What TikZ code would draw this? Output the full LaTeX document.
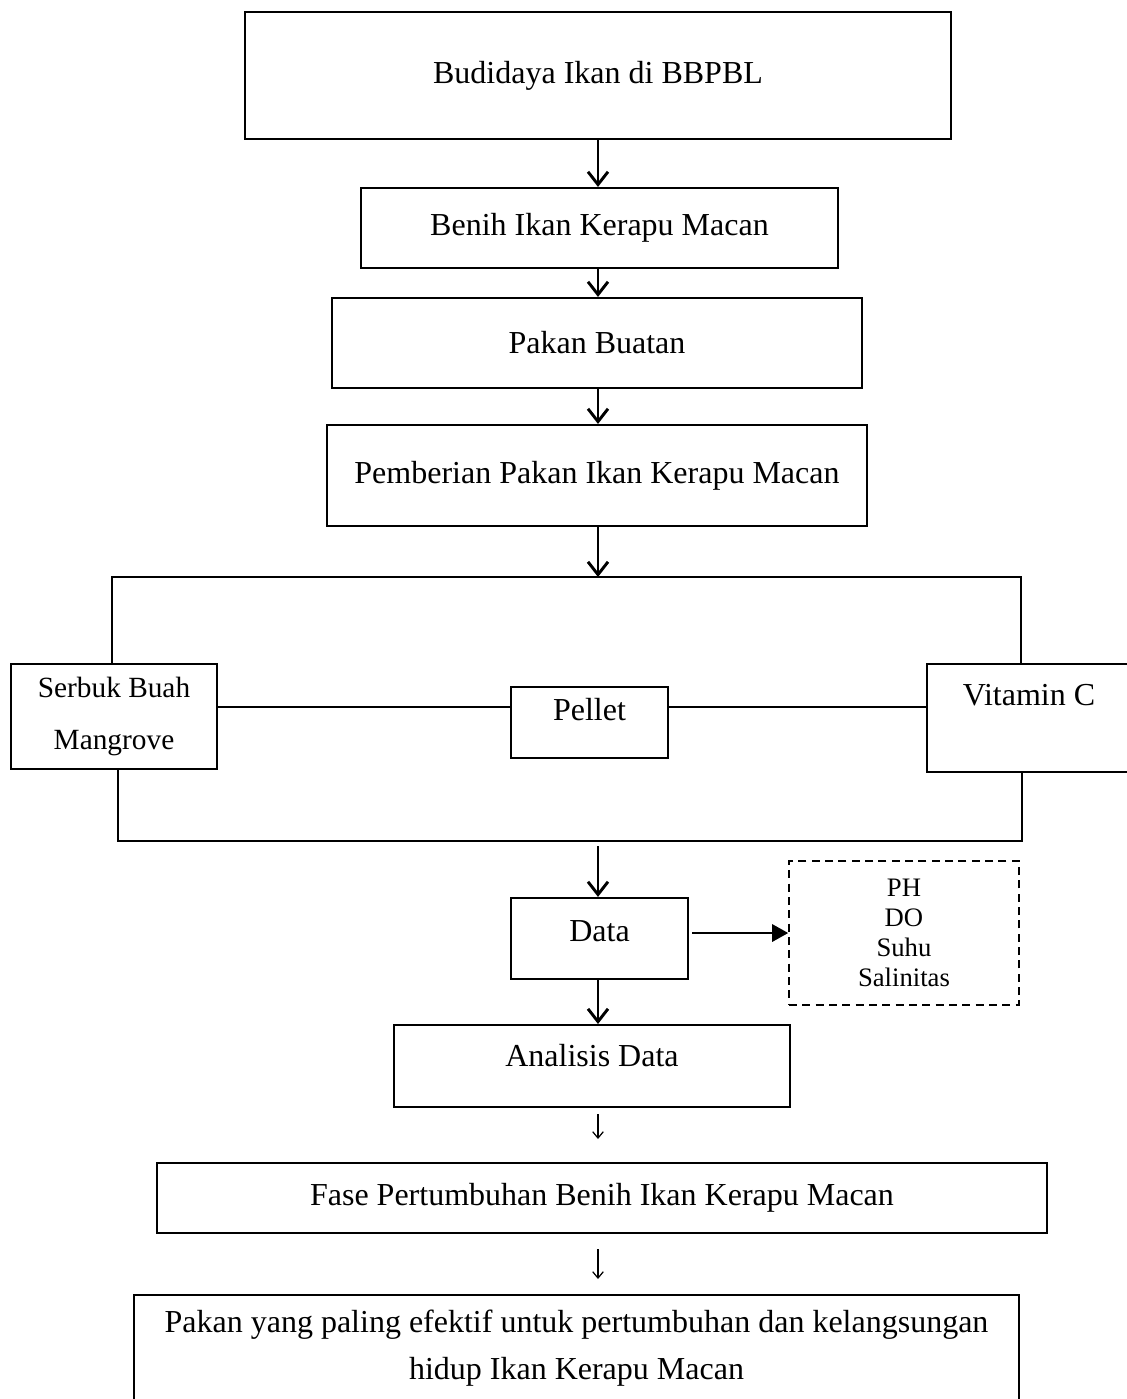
\documentclass[tikz,border=0pt]{standalone}
\usepackage{fontspec}
\setmainfont{Liberation Serif}
\usetikzlibrary{arrows.meta}
\tikzset{
  kotak/.style={draw,line width=0.8pt,inner sep=0pt,align=center,font=\fontsize{12}{14}\selectfont},
  putus/.style={draw,dash pattern=on 3pt off 2pt,line width=0.6pt,inner sep=0pt,align=center,font=\fontsize{10}{11.3}\selectfont},
  ukuran/.style 2 args={minimum width=#1*0.375pt,minimum height=#2*0.375pt},
  panah/.style={-{Straight Barb[length=4.8pt,width=7.5pt]},line width=1.1pt},
  panahtipis/.style={-{Straight Barb[length=2.4pt,width=4pt]},line width=0.45pt},
  bingkai/.style={line width=0.8pt},
  garis/.style={line width=0.4pt},
}

\begin{document}
\begin{tikzpicture}[x=0.375pt,y=-0.375pt]
  \useasboundingbox (0,0) rectangle (1127,1399);
  \coordinate (sumbu) at (598,0);

  % alur atas
  \node[kotak,ukuran={706}{127}] (budidaya) at (598,75.5) {Budidaya Ikan di BBPBL};
  \node[kotak,ukuran={477}{80}] (benih) at (599.5,228) {Benih Ikan Kerapu Macan};
  \node[kotak,ukuran={530}{90}] (pakan) at (597,343) {Pakan Buatan};
  \node[kotak,ukuran={540}{101}] (pemberian) at (597,475.5) {Pemberian Pakan Ikan Kerapu Macan};

  % tiga jenis pakan
  \node[kotak,ukuran={206}{105},font=\fontsize{11}{19.5}\selectfont] (serbuk) at (114,716.5) {Serbuk Buah\\ Mangrove};
  \node[kotak,minimum width=157*0.375pt,text height=12.4pt,text depth=14.2pt] (pellet) at (589.5,722.5) {Pellet};
  \node[kotak,minimum width=204*0.375pt,text height=15.4pt,text depth=25.1pt] (vitc) at (1029,718) {Vitamin C};

  \coordinate (kiriatas) at (112,577);
  \coordinate (kananatas) at (1021,577);
  \coordinate (kiribawah) at (118,841);
  \coordinate (kananbawah) at (1022,841);
  \coordinate (hgaris) at (0,707);
  \coordinate (bawahbingkai) at (598,846);

  % data dan analisis
  \node[kotak,minimum width=177*0.375pt,text height=16.5pt,text depth=13.9pt] (data) at (599.5,938.5) {Data};
  \node[putus,ukuran={230}{144}] (param) at (904,933) {PH\\ DO\\ Suhu\\ Salinitas};
  \node[kotak,minimum width=396*0.375pt,text height=15.7pt,text depth=15pt] (analisis) at (592,1066) {Analisis Data};
  \node[kotak,ukuran={890}{70}] (fase) at (602,1198) {Fase Pertumbuhan Benih Ikan Kerapu Macan};
  \node[kotak,ukuran={885}{106},font=\fontsize{12}{17.6}\selectfont] (hasil) at (576.5,1348) {Pakan yang paling efektif untuk pertumbuhan dan kelangsungan\\ hidup Ikan Kerapu Macan};

  \draw[panah] (budidaya.south -| sumbu) -- (benih.north -| sumbu);
  \draw[panah] (benih.south -| sumbu) -- (pakan.north -| sumbu);
  \draw[panah] (pakan.south -| sumbu) -- (pemberian.north -| sumbu);
  \draw[panah] (pemberian.south -| sumbu) -- (kiriatas -| sumbu);

  \draw[bingkai] (serbuk.north -| kiriatas) -- (kiriatas) -- (kananatas) -- (vitc.north -| kananatas);
  \draw[bingkai] (serbuk.south -| kiribawah) -- (kiribawah) -- (kananbawah) -- (vitc.south -| kananbawah);
  \draw[garis] (serbuk.east |- hgaris) -- (pellet.west |- hgaris);
  \draw[garis] (pellet.east |- hgaris) -- (vitc.west |- hgaris);

  \draw[panah] (bawahbingkai) -- (data.north -| sumbu);
  \draw[-{Triangle[length=6pt,width=6.5pt]},line width=0.75pt,shorten <=1.1pt] (data.east |- param.west) -- (param.west);
  \draw[panah] (data.south -| sumbu) -- (analisis.north -| sumbu);
  \draw[panahtipis,shorten <=2.3pt,shorten >=8.6pt] (analisis.south -| sumbu) -- (fase.north -| sumbu);
  \draw[panahtipis,shorten <=5.6pt,shorten >=5.6pt] (fase.south -| sumbu) -- (hasil.north -| sumbu);
\end{tikzpicture}
\end{document}
